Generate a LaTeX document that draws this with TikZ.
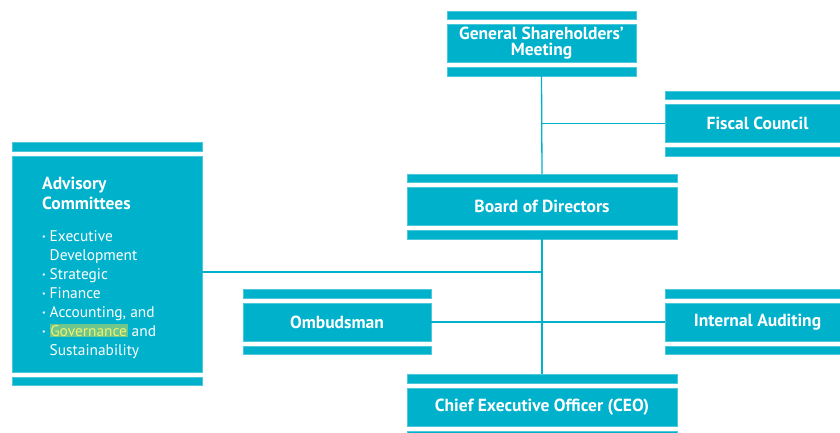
\documentclass[tikz,border=0pt]{standalone}
\usepackage{fontspec}
\setmainfont{PT Sans}
\usetikzlibrary{positioning}
\definecolor{teal}{RGB}{0,177,204}
\definecolor{hlgreen}{RGB}{112,198,140}
\definecolor{hlyellow}{RGB}{236,242,112}
\tikzset{
  unit/.style={fill=teal, draw=teal!70!white, line width=0.4pt, inner sep=0pt,
    minimum height=38pt, text=white, align=center,
    font=\bfseries\fontsize{17.5}{16}\selectfont},
  bar/.style={fill=teal, draw=teal!70!white, line width=0.4pt, inner sep=0pt,
    minimum height=8.5pt},
  link/.style={draw=teal, line width=1.3pt},
  advhead/.style={anchor=base west, inner sep=0pt, text=white,
    font=\bfseries\fontsize{17.5}{20}\selectfont},
  advitem/.style={anchor=base west, inner sep=0pt, text=white,
    font=\fontsize{15.4}{19}\selectfont},
}
% a box with a thin bar above and below it
\newcommand{\orgbox}[5]{% name, x, y, width, text
  \node[unit, minimum width=#4] (#1) at (#2,#3) {#5};
  \node[bar, minimum width=#4, above=4.5pt of #1] (#1T) {};
  \node[bar, minimum width=#4, below=4.5pt of #1] (#1B) {};
}
\newcommand{\bul}{\makebox[7.5pt][l]{\raisebox{1.5pt}{\fontsize{8}{8}\selectfont•}}}
\begin{document}
\begin{tikzpicture}[x=1pt,y=-1pt]
\useasboundingbox (0,0) rectangle (840,432);
\clip (0,0) rectangle (840,432);

\orgbox{gsm}{541.5}{43.5}{189pt}{General Shareholders’\\Meeting}
\orgbox{fiscal}{757.5}{123.5}{185pt}{Fiscal Council}
\orgbox{board}{542}{206.5}{270pt}{Board of Directors}
\orgbox{omb}{337}{322}{188pt}{Ombudsman}
\orgbox{audit}{757.5}{322}{185pt}{Internal Auditing}
\orgbox{ceo}{542}{407}{270pt}{Chief Executive Officer (CEO)}

% advisory committees block
\node[unit, minimum width=190pt, minimum height=216pt] (adv) at (107,264) {};
\node[bar, minimum width=190pt, above=4.5pt of adv] (advT) {};
\node[bar, minimum width=190pt, below=4.5pt of adv] (advB) {};
\node[advhead] (advh1) at (42,189) {Advisory};
\node[advhead] (advh2) at (42,209) {Committees};
\node[advitem] (advi1) at (42,241) {\bul Executive};
\node[advitem] (advi2) at (42,260) {\hspace*{7.5pt}Development};
\node[advitem] (advi3) at (42,279) {\bul Strategic};
\node[advitem] (advi4) at (42,298) {\bul Finance};
\node[advitem] (advi5) at (42,317) {\bul Accounting, and};
\node[advitem] (advi6) at (42,336) {\bul{\setlength{\fboxsep}{0.6pt}\colorbox{hlgreen}{\textcolor{hlyellow}{Governance}}} and};
\node[advitem] (advi7) at (42,355) {\hspace*{7.5pt}Sustainability};

% reporting lines
\draw[link] (gsmB.south) -- (boardT.north);
\draw[link] (boardB.south) -- (ceoT.north);
\draw[link] (fiscal.west) -- (fiscal.west -| gsmB.south);
\draw[link] ([yshift=-8pt]adv.east) -- ([yshift=-8pt]adv.east -| boardB.south);
\draw[link] (omb.east) -- (audit.west);
\end{tikzpicture}
\end{document}
